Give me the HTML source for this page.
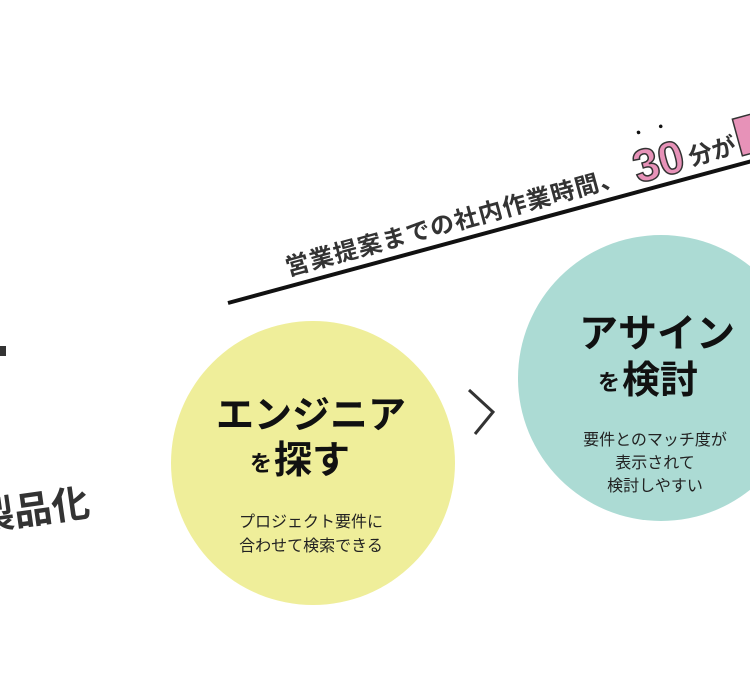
<!DOCTYPE html>
<html><head><meta charset="utf-8"><style>
html,body{margin:0;padding:0;background:#fff;width:750px;height:687px;overflow:hidden}
svg{display:block}
text{font-family:"Liberation Sans","Noto Sans CJK JP",sans-serif}
</style></head><body>
<svg width="750" height="687" viewBox="0 0 750 687" xmlns="http://www.w3.org/2000/svg">
<rect width="750" height="687" fill="#fff"/>
<circle cx="313" cy="463" r="142" fill="#efee9a"/>
<circle cx="661" cy="378" r="143" fill="#acdbd4"/>
<polyline points="469,390 493,412 475,434" fill="none" stroke="#333" stroke-width="3"/>
<line x1="228" y1="303" x2="752" y2="161" stroke="#111" stroke-width="4"/>
<g transform="translate(288,276) rotate(-15.3)">
  <text x="0" y="0" font-size="24" font-weight="bold" fill="#333" letter-spacing="1">営業提案までの社内作業時間、</text>
  <text x="362" y="3" font-size="46" font-weight="bold" fill="#e792b8" stroke="#333" stroke-width="1.5">30</text>
  <text x="418" y="0" font-size="24" font-weight="bold" fill="#333">分が</text>
  <circle cx="376" cy="-46" r="1.8" fill="#111"/>
  <circle cx="399" cy="-46" r="1.8" fill="#111"/>
  <rect x="470" y="-34" width="22" height="38" fill="#e792b8" stroke="#333" stroke-width="1.5"/>
</g>
<rect x="0" y="346" width="6" height="10" fill="#333"/>
<g transform="translate(0,528) rotate(-8)">
  <text x="-22" y="0" font-size="38" font-weight="bold" fill="#333">製品化</text>
</g>
<text x="311" y="428" font-size="38" font-weight="bold" fill="#111" text-anchor="middle">エンジニア</text>
<text x="250" y="471" font-size="22" font-weight="bold" fill="#111">を</text>
<text x="274" y="473" font-size="38" font-weight="bold" fill="#111">探す</text>
<text x="311" y="527" font-size="16" fill="#222" text-anchor="middle">プロジェクト要件に</text>
<text x="311" y="551" font-size="16" fill="#222" text-anchor="middle">合わせて検索できる</text>
<text x="657" y="347" font-size="39" font-weight="bold" fill="#111" text-anchor="middle">アサイン</text>
<text x="598" y="390" font-size="22" font-weight="bold" fill="#111">を</text>
<text x="622" y="393" font-size="38" font-weight="bold" fill="#111">検討</text>
<text x="655" y="445" font-size="16" fill="#222" text-anchor="middle">要件とのマッチ度が</text>
<text x="655" y="468" font-size="16" fill="#222" text-anchor="middle">表示されて</text>
<text x="655" y="491" font-size="16" fill="#222" text-anchor="middle">検討しやすい</text>
</svg>
</body></html>
